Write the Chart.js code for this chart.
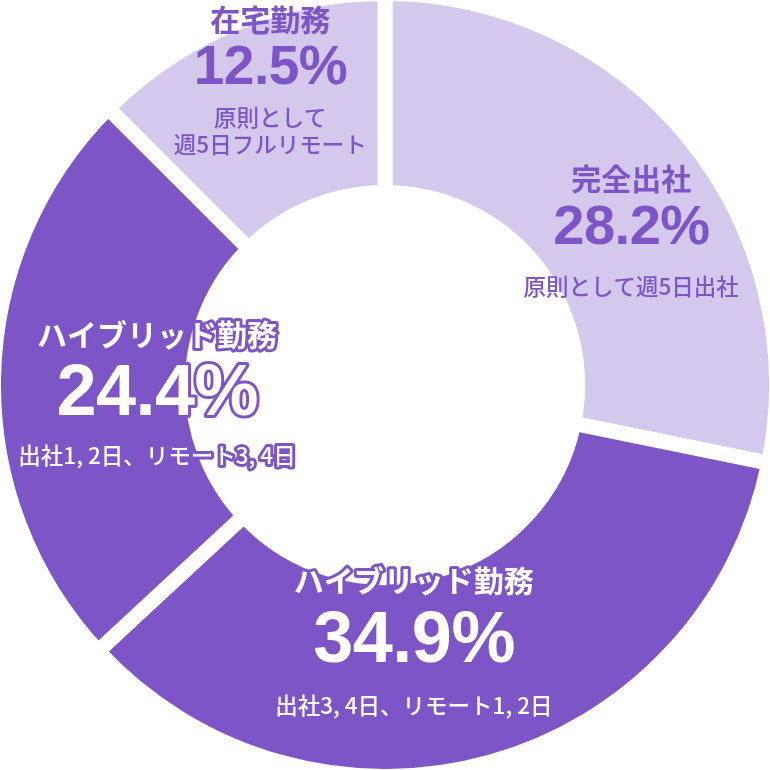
<!DOCTYPE html>
<html lang="ja">
<head>
<meta charset="utf-8">
<script src="https://cdn.jsdelivr.net/npm/chart.js@4.4.1/dist/chart.umd.min.js"></script>
<style>
  html, body { margin: 0; padding: 0; background: #fff; }
</style>
</head>
<body>
<canvas id="graficaDona" width="770" height="770"></canvas>
<script>
// =============================================
// DATOS
// =============================================

const categorias = ["完全出社", "ハイブリッド勤務", "ハイブリッド勤務", "在宅勤務"];
const porcentajes = [28.2, 34.9, 24.4, 12.5];
const notas = [
  ["原則として週5日出社"],
  ["出社3, 4日、リモート1, 2日"],
  ["出社1, 2日、リモート3, 4日"],
  ["原則として", "週5日フルリモート"],
];

// =============================================
// ESTILOS
// =============================================

const MORADO = "#7d55c7";
const LILA = "#d4c8ed";
const colores = [LILA, MORADO, MORADO, LILA];
const oscuro = [false, true, true, false];

// desplazamiento del titulo respecto al centro del arco
const ajustes = [[20, -22], [-50, -86], [64, -45], [-3, -96]];
// posicion vertical de cada linea (titulo, valor, notas...)
const lineas = [[0, 50, 108], [0, 62, 125], [0, 61, 121], [0, 50, 98, 125]];
const tamValor = [56, 72, 72, 55];

const FUENTE_JP = "'Noto Sans CJK JP', sans-serif";
const FUENTE_NOTA = "'Noto Sans CJK JP Medium', 'Noto Sans CJK JP', sans-serif";
const FUENTE_NUM = "'Liberation Sans', Arial, sans-serif";

function dibujarTexto(ctx, texto, x, y, fuente, contorno, espacio) {
  ctx.font = fuente;
  ctx.letterSpacing = (espacio || 0) + "px";
  // compensar el espacio extra tras el ultimo caracter
  const cx = x - (espacio || 0) / 2;
  if (contorno) {
    ctx.lineWidth = 6;
    ctx.lineJoin = "round";
    ctx.strokeStyle = MORADO;
    ctx.strokeText(texto, cx, y);
    ctx.fillStyle = "#ffffff";
  } else {
    ctx.fillStyle = MORADO;
  }
  ctx.fillText(texto, cx, y);
  ctx.letterSpacing = "0px";
}

// =============================================
// ETIQUETAS SOBRE LOS ARCOS
// =============================================

const etiquetasPlugin = {
  id: "etiquetas",
  afterDatasetsDraw(chart) {
    const ctx = chart.ctx;
    const arcos = chart.getDatasetMeta(0).data;

    ctx.save();
    ctx.textAlign = "center";
    ctx.textBaseline = "middle";

    arcos.forEach((arco, i) => {
      const p = arco.getProps(["x", "y", "startAngle", "endAngle", "innerRadius", "outerRadius"], true);
      const medio = (p.startAngle + p.endAngle) / 2;
      const r = (p.innerRadius + p.outerRadius) / 2;
      const x = p.x + Math.cos(medio) * r + ajustes[i][0];
      const y = p.y + Math.sin(medio) * r + ajustes[i][1];
      const dy = lineas[i];

      dibujarTexto(ctx, categorias[i], x, y + dy[0], "bold 30px " + FUENTE_JP, oscuro[i]);
      dibujarTexto(ctx, porcentajes[i].toFixed(1) + "%", x, y + dy[1], "bold " + tamValor[i] + "px " + FUENTE_NUM, oscuro[i], -0.5);
      notas[i].forEach((nota, j) => {
        dibujarTexto(ctx, nota, x, y + dy[2 + j], "500 22.5px " + FUENTE_NOTA, oscuro[i]);
      });
    });

    ctx.restore();
  },
};

// =============================================
// GRAFICA
// =============================================

document.addEventListener("DOMContentLoaded", function () {
  const ctx = document.getElementById("graficaDona").getContext("2d");
  new Chart(ctx, {
    type: "doughnut",
    data: {
      labels: categorias,
      datasets: [
        {
          data: porcentajes,
          backgroundColor: colores,
          borderColor: "#ffffff",
          borderWidth: 15,
          hoverOffset: 0,
        },
      ],
    },
    options: {
      responsive: false,
      animation: false,
      events: [],
      radius: 391.5,
      cutout: "49.2%",
      layout: { padding: 0 },
      plugins: {
        legend: { display: false },
        tooltip: { enabled: false },
      },
    },
    plugins: [etiquetasPlugin],
  });
});
</script>
</body>
</html>
